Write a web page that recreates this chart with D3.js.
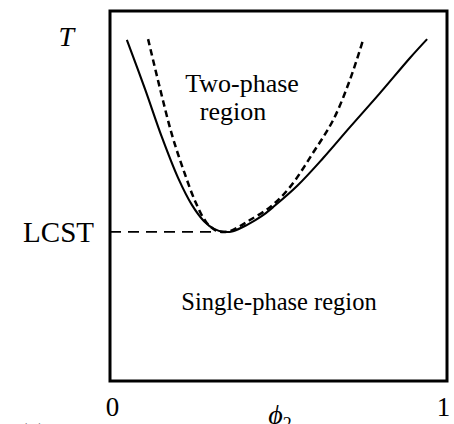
<!DOCTYPE html>
<html>
<head lang="en">
    <meta charset="UTF-8">
    <script type="text/javascript" src="https://cdn.jsdelivr.net/npm/d3@7/dist/d3.min.js"></script>
    <title>LCST</title>
</head>
<body style="margin:0;background:#fff">
<style>
    svg text{ font-family: "Liberation Serif", "DejaVu Serif", serif; fill: #000; }
    .frame{ fill: none; stroke: #000; stroke-width: 3; }
    .binodal{ fill: none; stroke: #000; stroke-width: 2.1; }
    .spinodal{ fill: none; stroke: #000; stroke-width: 2.5; stroke-dasharray: 6.5 4; }
    .lcst{ stroke: #000; stroke-width: 1.8; stroke-dasharray: 11 7; }
</style>
<script type="text/javascript">
    // 画布
    var w = 454, h = 424;
    var svg = d3.select("body").append("svg")
            .attr("width", w)
            .attr("height", h);

    // 数据 (phi2, T) —— 从图上读出
    var binodalPhi = [0.050,0.104,0.154,0.202,0.243,0.279,0.309,0.338,0.365,0.407,0.451,0.484,0.555,0.632,0.712,0.801,0.890,0.941];
    var binodalT   = [0.922,0.789,0.659,0.549,0.476,0.432,0.411,0.403,0.405,0.422,0.446,0.470,0.527,0.602,0.686,0.778,0.873,0.924];
    var spinodalPhi = [0.113,0.148,0.184,0.220,0.255,0.285,0.312,0.332,0.356,0.386,0.415,0.475,0.534,0.602,0.662,0.712,0.751];
    var spinodalT   = [0.924,0.792,0.665,0.565,0.481,0.430,0.408,0.403,0.405,0.419,0.435,0.470,0.524,0.616,0.705,0.814,0.922];
    var lcstT = 0.403;
    var lcstEndPhi = 0.32;
    var xTicks = [0, 1];
    var xTickLabels = ["0", "1"];
    var yTicks = [lcstT, 0.93];
    var yTickLabels = ["LCST", "T"];

    var x = d3.scaleLinear().domain([0, 1]).range([110, 447]);
    var y = d3.scaleLinear().domain([0, 1]).range([381, 11]);

    var line = d3.line()
            .x(function(d){ return x(d[0]); })
            .y(function(d){ return y(d[1]); })
            .curve(d3.curveCatmullRom);

    // 虚线 LCST
    svg.append("line").attr("class", "lcst")
            .attr("x1", x(0)).attr("y1", y(lcstT))
            .attr("x2", x(lcstEndPhi)).attr("y2", y(lcstT));

    svg.append("path").attr("class", "binodal")
            .attr("d", line(d3.zip(binodalPhi, binodalT)));
    svg.append("path").attr("class", "spinodal")
            .attr("d", line(d3.zip(spinodalPhi, spinodalT)));

    // 边框
    svg.append("rect").attr("class", "frame")
            .attr("x", x(0)).attr("y", y(1))
            .attr("width", x(1) - x(0)).attr("height", y(0) - y(1));

    // 坐标轴文字
    var xAxis = svg.append("g")
            .attr("transform", "translate(0," + y(0) + ")")
            .call(d3.axisBottom(x).tickValues(xTicks).tickSize(0).tickPadding(16)
                    .tickFormat(function(d, i){ return xTickLabels[i]; }));
    xAxis.select(".domain").remove();
    xAxis.selectAll("text").attr("font-size", 27).attr("font-family", null)
            .attr("dx", function(d){ return d == 0 ? 2 : -4; });

    var yAxis = svg.append("g")
            .attr("transform", "translate(" + x(0) + ",0)")
            .call(d3.axisLeft(y).tickValues(yTicks).tickSize(0).tickPadding(16)
                    .tickFormat(function(d, i){ return yTickLabels[i]; }));
    yAxis.select(".domain").remove();
    yAxis.selectAll("text").attr("font-family", null)
            .attr("font-size", function(d, i){ return i == 0 ? 29 : 28; })
            .attr("font-style", function(d, i){ return i == 1 ? "italic" : null; })
            .attr("dx", function(d, i){ return i == 1 ? -20 : 0; });

    var phi = svg.append("text").attr("x", 280).attr("y", 424)
            .attr("text-anchor", "middle").attr("font-size", 28);
    phi.append("tspan").attr("font-style", "italic").text("ϕ");
    phi.append("tspan").attr("font-size", 18).attr("dy", 6).text("2");

    svg.append("text").attr("x", 20).attr("y", 438).attr("font-size", 22).text("(b)");

    // 区域文字
    svg.append("text").attr("x", 242).attr("y", 92).attr("text-anchor", "middle")
            .attr("font-size", 26).text("Two-phase");
    svg.append("text").attr("x", 233).attr("y", 120).attr("text-anchor", "middle")
            .attr("font-size", 26).text("region");
    svg.append("text").attr("x", 279).attr("y", 310).attr("text-anchor", "middle")
            .attr("font-size", 24.5).text("Single-phase region");
</script>
</body>
</html>
